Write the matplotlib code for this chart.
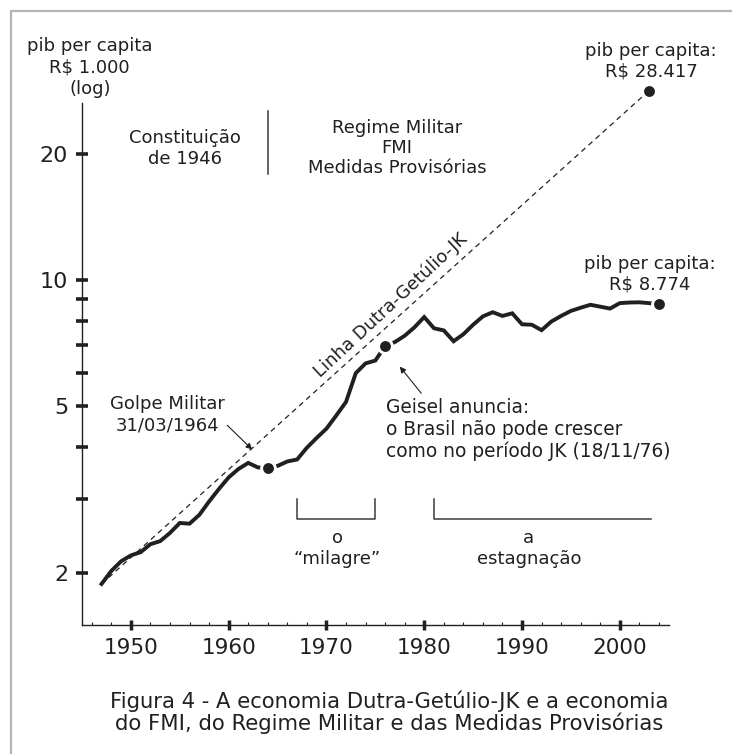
import matplotlib
matplotlib.use('Agg')
import matplotlib.pyplot as plt
from matplotlib.patches import Rectangle
from matplotlib.ticker import NullFormatter

# pib per capita, R$ 1.000
anos = list(range(1947, 2005))
pib = [1.88, 2.02, 2.13, 2.20, 2.24, 2.34, 2.38, 2.49, 2.63, 2.62,
       2.75, 2.96, 3.17, 3.38, 3.54, 3.66, 3.57, 3.56, 3.60, 3.69,
       3.73, 3.98, 4.20, 4.42, 4.75, 5.12, 6.00, 6.33, 6.43, 6.96,
       7.12, 7.37, 7.72, 8.17, 7.68, 7.59, 7.15, 7.43, 7.83, 8.20,
       8.39, 8.22, 8.34, 7.85, 7.83, 7.60, 7.97, 8.22, 8.45, 8.60,
       8.74, 8.65, 8.56, 8.82, 8.85, 8.86, 8.82, 8.774]

# linha Dutra-Getulio-JK (tendencia)
linha_anos = [1947, 2003]
linha_pib = [1.88, 28.417]

# anos marcados com ponto
marcos = [1964, 1976, 2004]

yticks = [2, 5, 10, 20]
yminor = [3, 4, 6, 7, 8, 9]
xticks = [1950, 1960, 1970, 1980, 1990, 2000]
xminor = list(range(1946, 2005, 2))

preto = '#231f20'
cinza = '#3a3a3a'

fig = plt.figure(figsize=(7.32, 7.54), dpi=100)
ax = fig.add_axes([0.1120, 0.1711, 0.8015, 0.7374])

# moldura cinza
fig.add_artist(Rectangle((0.015, -0.5), 2, 0.9854 + 0.5, transform=fig.transFigure,
                         fill=False, edgecolor='#b4b4b4', lw=1.6))

ax.set_yscale('log')
ax.set_xlim(1945, 2005)
ax.set_ylim(1.5, 32)

# tendencia tracejada
ax.plot(linha_anos, linha_pib, color=preto, lw=0.9, dashes=(4.2, 3.4), zorder=2)

# serie
ax.plot(anos, pib, color=preto, lw=2.8, solid_joinstyle='miter', zorder=3)

# pontos com halo branco
mx = marcos + [linha_anos[-1]]
my = [pib[anos.index(a)] for a in marcos] + [linha_pib[-1]]
ax.plot(mx, my, 'o', ms=11, color='white', zorder=4, clip_on=False)
ax.plot(mx, my, 'o', ms=6.8, color=preto, zorder=5, clip_on=False)

# eixos
for s in ['top', 'right']:
    ax.spines[s].set_visible(False)
ax.spines['left'].set_bounds(1.5, 26.5)
for s in ['left', 'bottom']:
    ax.spines[s].set_linewidth(1.0)
    ax.spines[s].set_color(preto)

ax.set_yticks(yticks, labels=[str(t) for t in yticks])
ax.set_yticks(yminor, minor=True)
ax.yaxis.set_minor_formatter(NullFormatter())
ax.set_xticks(xticks, labels=[str(t) for t in xticks])
ax.set_xticks(xminor, minor=True)

ax.tick_params(axis='y', which='both', direction='inout', length=8, width=2.6,
               color=preto, labelsize=16, labelcolor=preto, pad=6)
ax.tick_params(axis='x', which='major', direction='inout', length=7, width=2.5,
               color=preto, labelsize=15.5, labelcolor=preto, pad=6)
ax.tick_params(axis='x', which='minor', direction='in', length=2.5, width=0.8,
               color=preto)

fs = 13
ax.text(1945.8, 32.3, 'pib per capita\nR$ 1.000\n(log)', ha='center', va='center',
        fontsize=fs, color=preto, linespacing=1.25)
ax.text(1955.5, 20.7, 'Constituição\nde 1946', ha='center', va='center',
        fontsize=fs, color=preto, linespacing=1.2)
ax.plot([1964, 1964], [18, 25.4], color=cinza, lw=1.1)
ax.text(1977.2, 20.7, 'Regime Militar\nFMI\nMedidas Provisórias', ha='center',
        va='center', fontsize=fs, color=preto, linespacing=1.15)
ax.text(2003.2, 33.4, 'pib per capita:\nR$ 28.417', ha='center', va='center',
        fontsize=fs, color=preto, linespacing=1.2)
ax.text(2003.1, 10.33, 'pib per capita:\nR$ 8.774', ha='center', va='center',
        fontsize=fs, color=preto, linespacing=1.15)
ax.text(1976.54, 8.74, 'Linha Dutra-Getúlio-JK', ha='center', va='center',
        rotation=43, rotation_mode='anchor', fontsize=fs, color=preto)

# golpe
ax.annotate('Golpe Militar\n31/03/1964', xy=(1962.4, 3.94), xytext=(1953.7, 4.77),
            ha='center', va='center', fontsize=fs, color=preto, linespacing=1.2,
            arrowprops=dict(arrowstyle='-|>', color=preto, lw=0.8,
                            mutation_scale=9, shrinkA=0, shrinkB=0,
                            relpos=(1.0, 0.3)))
# geisel
ax.annotate('', xy=(1977.5, 6.22), xytext=(1979.7, 5.37),
            arrowprops=dict(arrowstyle='-|>', color=preto, lw=0.8,
                            mutation_scale=9, shrinkA=0, shrinkB=0))
ax.text(1976.1, 4.40, 'Geisel anuncia:\no Brasil não pode crescer\ncomo no período JK (18/11/76)',
        ha='left', va='center', fontsize=13.4, color=preto, linespacing=1.15)

# chaves dos periodos
ax.plot([1967, 1967, 1975, 1975], [3.0, 2.69, 2.69, 3.0], color=cinza, lw=1.1)
ax.text(1971.1, 2.29, 'o\n“milagre”', ha='center', va='center', fontsize=fs,
        color=preto, linespacing=1.2)
ax.plot([1981, 1981, 2003.2], [3.0, 2.69, 2.69], color=cinza, lw=1.1)
ax.text(1990.7, 2.29, 'a\nestagnação', ha='center', va='center', fontsize=fs,
        color=preto, linespacing=1.2)

# legenda da figura
fig.text(389.5 / 732, 1 - 712.5 / 754,
         'Figura 4 - A economia Dutra-Getúlio-JK e a economia\n'
         'do FMI, do Regime Militar e das Medidas Provisórias',
         ha='center', va='center', fontsize=15.2, color=preto, linespacing=1.05)

fig.savefig('out.png', dpi=100)
